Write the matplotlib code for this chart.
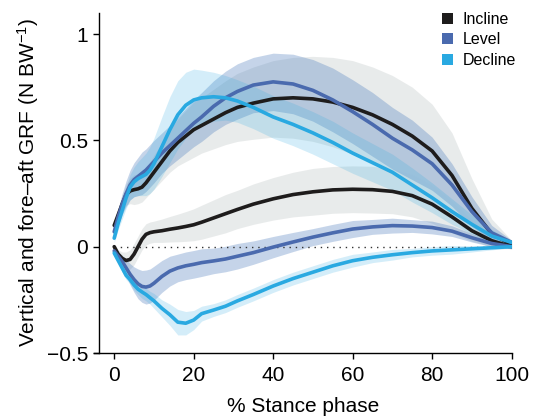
import numpy as np
import matplotlib.pyplot as plt
from matplotlib.patches import Patch

plt.rcParams['font.family'] = ['Liberation Sans', 'DejaVu Sans']
plt.rcParams['mathtext.fontset'] = 'custom'
plt.rcParams['mathtext.rm'] = 'Liberation Sans'
plt.rcParams['mathtext.it'] = 'Liberation Sans:italic'

# % stance phase sample points
stance = [0, 1, 2, 3, 4, 5, 6, 7, 8, 9, 10, 12, 14, 16, 18, 20, 22, 25, 28, 31,
          35, 40, 45, 50, 55, 60, 65, 70, 75, 80, 85, 90, 95, 100]

# vertical GRF (N BW^-1), mean and s.d.
incline_vert = [0.10, 0.15, 0.20, 0.245, 0.262, 0.268, 0.272, 0.28, 0.30, 0.325, 0.35, 0.40,
                0.45, 0.49, 0.52, 0.55, 0.57, 0.60, 0.63, 0.655, 0.675, 0.695, 0.70, 0.695,
                0.68, 0.655, 0.62, 0.575, 0.52, 0.45, 0.335, 0.18, 0.06, 0.01]
incline_vert_sd = [0.02, 0.03, 0.04, 0.05, 0.06, 0.07, 0.07, 0.07, 0.07, 0.075, 0.08, 0.09,
                   0.10, 0.11, 0.12, 0.13, 0.13, 0.14, 0.15, 0.16, 0.17, 0.18, 0.19, 0.20,
                   0.21, 0.22, 0.225, 0.23, 0.23, 0.22, 0.20, 0.14, 0.07, 0.02]
level_vert = [0.07, 0.14, 0.20, 0.25, 0.29, 0.315, 0.33, 0.345, 0.36, 0.38, 0.40, 0.44,
              0.475, 0.51, 0.545, 0.58, 0.61, 0.66, 0.70, 0.73, 0.76, 0.775, 0.765, 0.735,
              0.69, 0.635, 0.575, 0.51, 0.455, 0.39, 0.29, 0.165, 0.065, 0.02]
level_vert_sd = [0.03, 0.04, 0.05, 0.06, 0.07, 0.08, 0.09, 0.10, 0.10, 0.10, 0.10, 0.095,
                 0.095, 0.10, 0.105, 0.11, 0.115, 0.12, 0.125, 0.13, 0.13, 0.135, 0.14, 0.145,
                 0.15, 0.15, 0.15, 0.145, 0.14, 0.125, 0.10, 0.07, 0.035, 0.01]
decline_vert = [0.04, 0.11, 0.17, 0.23, 0.28, 0.305, 0.32, 0.33, 0.34, 0.36, 0.39, 0.47,
                0.55, 0.62, 0.665, 0.69, 0.70, 0.705, 0.70, 0.685, 0.655, 0.61, 0.575, 0.535,
                0.49, 0.44, 0.395, 0.35, 0.29, 0.23, 0.165, 0.105, 0.05, 0.02]
decline_vert_sd = [0.02, 0.03, 0.04, 0.05, 0.06, 0.07, 0.08, 0.09, 0.10, 0.11, 0.12, 0.14,
                   0.155, 0.16, 0.155, 0.145, 0.13, 0.115, 0.105, 0.10, 0.10, 0.10, 0.10, 0.10,
                   0.10, 0.095, 0.09, 0.085, 0.08, 0.07, 0.06, 0.045, 0.03, 0.01]

# fore-aft GRF (N BW^-1), mean and s.d.
incline_fa = [0.0, -0.035, -0.055, -0.065, -0.06, -0.035, 0.0, 0.035, 0.058, 0.066, 0.07, 0.075,
              0.082, 0.088, 0.095, 0.103, 0.115, 0.135, 0.155, 0.175, 0.20, 0.225, 0.245, 0.258,
              0.267, 0.27, 0.268, 0.26, 0.24, 0.20, 0.14, 0.075, 0.028, 0.0]
incline_fa_sd = [0.01, 0.02, 0.03, 0.04, 0.045, 0.05, 0.05, 0.05, 0.05, 0.05, 0.05, 0.055,
                 0.06, 0.065, 0.07, 0.075, 0.08, 0.085, 0.09, 0.09, 0.095, 0.10, 0.105, 0.11,
                 0.11, 0.11, 0.11, 0.105, 0.10, 0.09, 0.075, 0.05, 0.025, 0.01]
level_fa = [-0.02, -0.045, -0.07, -0.10, -0.13, -0.155, -0.175, -0.187, -0.19, -0.185, -0.172,
            -0.14, -0.115, -0.10, -0.09, -0.083, -0.075, -0.067, -0.058, -0.045, -0.028, -0.002,
            0.022, 0.045, 0.065, 0.083, 0.093, 0.099, 0.097, 0.09, 0.073, 0.042, 0.015, 0.0]
level_fa_sd = [0.01, 0.02, 0.03, 0.04, 0.05, 0.06, 0.07, 0.075, 0.08, 0.08, 0.08, 0.075,
               0.07, 0.065, 0.065, 0.065, 0.065, 0.06, 0.06, 0.06, 0.055, 0.05, 0.045, 0.04,
               0.04, 0.04, 0.035, 0.035, 0.03, 0.03, 0.025, 0.02, 0.015, 0.01]
decline_fa = [-0.03, -0.065, -0.10, -0.135, -0.155, -0.18, -0.20, -0.213, -0.225, -0.24, -0.255,
              -0.29, -0.32, -0.355, -0.36, -0.345, -0.315, -0.298, -0.28, -0.255, -0.225, -0.185,
              -0.15, -0.12, -0.09, -0.066, -0.05, -0.038, -0.028, -0.02, -0.015, -0.01, -0.005, 0.0]
decline_fa_sd = [0.01, 0.015, 0.02, 0.02, 0.02, 0.025, 0.025, 0.03, 0.03, 0.03, 0.035, 0.04,
                 0.05, 0.06, 0.055, 0.045, 0.035, 0.03, 0.03, 0.03, 0.03, 0.03, 0.03, 0.03,
                 0.03, 0.03, 0.025, 0.025, 0.02, 0.02, 0.02, 0.015, 0.01, 0.005]

conditions = ['Incline', 'Level', 'Decline']
line_colors = ['#1e1c1c', '#4a6aae', '#29a9e1']
band_colors = ['#e5e8e8', '#4f7fbf', '#29a9e1']
band_alpha = [0.85, 0.33, 0.2]

vert = [(incline_vert, incline_vert_sd), (level_vert, level_vert_sd), (decline_vert, decline_vert_sd)]
fa = [(incline_fa, incline_fa_sd), (level_fa, level_fa_sd), (decline_fa, decline_fa_sd)]

fig = plt.figure(figsize=(5.36, 4.18), dpi=100)
ax = fig.add_axes([0.176, 0.1555, 0.7785, 0.814])

x = np.array(stance)
for i in range(3):
    for m, s in (vert[i], fa[i]):
        m, s = np.array(m), np.array(s)
        ax.fill_between(x, m - s, m + s, color=band_colors[i], alpha=band_alpha[i], lw=0)

ax.plot([0, 100], [0, 0], color='#333333', lw=1.0, ls=(0, (1, 3.5)))

for i in range(3):
    for m, s in (vert[i], fa[i]):
        ax.plot(x, m, color=line_colors[i], lw=2.6, solid_capstyle='round')

ax.set_xlim(-5, 100)
ax.set_ylim(-0.5, 1.1)
ax.set_xticks([0, 20, 40, 60, 80, 100])
ax.set_yticks([-0.5, 0, 0.5, 1])
ax.set_yticklabels(['\u22120.5', '0', '0.5', '1'])
ax.spines['top'].set_visible(False)
ax.spines['right'].set_visible(False)
ax.spines['left'].set_position(('data', -3.8))
ax.spines['left'].set_linewidth(1.0)
ax.spines['bottom'].set_linewidth(1.0)
ax.tick_params(direction='out', length=4, width=1.0, labelsize=15, pad=4)
ax.tick_params(axis='x', pad=5)

ax.set_xlabel('% Stance phase', fontsize=15, labelpad=9)
ax.set_ylabel('Vertical and fore\u2013aft GRF (N BW$^{\u22121}$)', fontsize=15, labelpad=4)

handles = [Patch(facecolor=c, edgecolor='none') for c in line_colors]
ax.legend(handles, conditions, loc='upper right', bbox_to_anchor=(1.045, 1.045), frameon=False,
          fontsize=11.5, handlelength=0.7, handleheight=0.7, handletextpad=0.6, labelspacing=0.35)

fig.savefig('out.png', dpi=100)
